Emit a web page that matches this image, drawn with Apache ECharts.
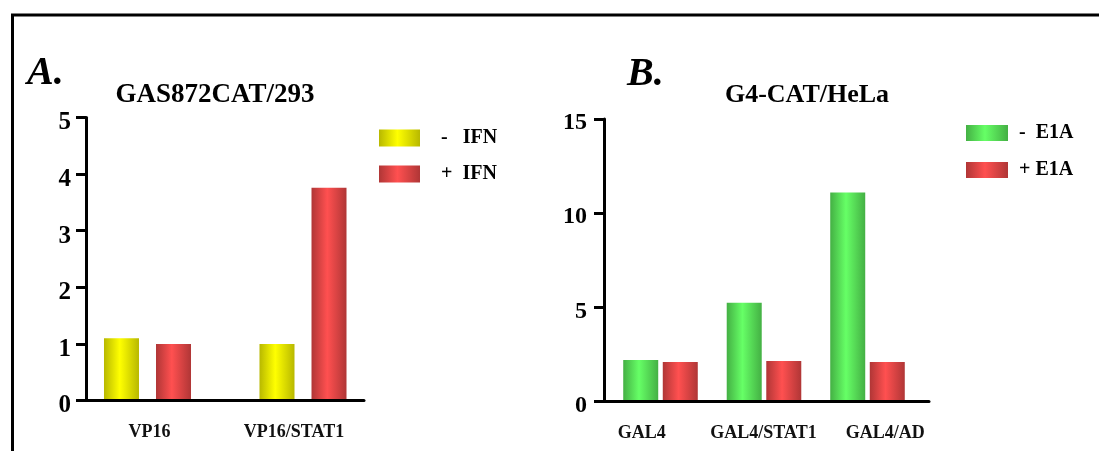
<!DOCTYPE html>
<html>
<head>
<meta charset="utf-8">
<script src="https://cdn.jsdelivr.net/npm/echarts@6/dist/echarts.min.js"></script>
<style>html,body{margin:0;padding:0;background:#fff;}#c{width:1099px;height:451px;}</style>
</head>
<body>
<div id="c"></div>
<script>
// ---- data ----
const categoriesA = ['VP16', 'VP16/STAT1'];
const ifnMinus = [1.1, 1.0];
const ifnPlus = [1.0, 3.76];
const ticksA = { min: 0, max: 5, interval: 1 };

const categoriesB = ['GAL4', 'GAL4/STAT1', 'GAL4/AD'];
const e1aMinus = [2.2, 5.25, 11.1];
const e1aPlus = [2.1, 2.15, 2.1];
const ticksB = { min: 0, max: 15, interval: 5 };

const namesA = ['-   IFN', '+  IFN'];
const namesB = ['-  E1A', '+ E1A'];

// ---- styling ----
const FONT = "'Liberation Serif', 'Times New Roman', serif";
const grad = (edge, mid) => new echarts.graphic.LinearGradient(0, 0, 1, 0, [
  { offset: 0, color: edge }, { offset: 0.45, color: mid }, { offset: 1, color: edge }
]);
const yellow = grad('#b8b800', '#ffff00');
const red = grad('#b03636', '#ff5050');
const green = grad('#44b044', '#66ff66');

// axis-line-only x axis
function lineX(gi, cats) {
  return {
    gridIndex: gi, type: 'category', data: cats, z: 10,
    axisLine: { show: true, lineStyle: { color: '#000', width: 3 } },
    axisTick: { show: false }, axisLabel: { show: false }
  };
}
// label-only x axis
function labelX(gi, cats) {
  return {
    gridIndex: gi, type: 'category', data: cats,
    axisLine: { show: false }, axisTick: { show: false },
    axisLabel: { interval: 0, color: '#111', fontFamily: FONT, fontWeight: 'bold', fontSize: 18, margin: 23 }
  };
}
function hidX(gi, cats) {
  return { gridIndex: gi, type: 'category', data: cats, show: false };
}
function visY(gi, t, fs, margin, shiftLH) {
  return {
    gridIndex: gi, type: 'value', min: t.min, max: t.max, interval: t.interval, z: 10,
    axisLine: { show: true, lineStyle: { color: '#000', width: 3 } },
    axisTick: { show: true, inside: false, length: 10, lineStyle: { color: '#000', width: 3 } },
    splitLine: { show: false },
    axisLabel: { color: '#000', fontFamily: FONT, fontWeight: 'bold', fontSize: fs, margin: margin,
      lineHeight: shiftLH, formatter: v => '\n' + v }
  };
}
function hidY(gi, t) {
  return { gridIndex: gi, type: 'value', min: t.min, max: t.max, show: false, splitLine: { show: false } };
}

const legendText = { fontFamily: FONT, fontWeight: 'bold', fontSize: 20, color: '#000' };

const option = {
  backgroundColor: '#fff',
  animation: false,
  title: [
    { text: 'A.', left: 27, top: 54, padding: 0, textStyle: { fontFamily: FONT, fontStyle: 'italic', fontWeight: 'bold', fontSize: 40, color: '#000' } },
    { text: 'B.', left: 627, top: 55, padding: 0, textStyle: { fontFamily: FONT, fontStyle: 'italic', fontWeight: 'bold', fontSize: 40, color: '#000' } },
    { text: 'GAS872CAT/293', left: 215, textAlign: 'center', top: 82, padding: 0, textStyle: { fontFamily: FONT, fontWeight: 'bold', fontSize: 27, color: '#000' } },
    { text: 'G4-CAT/HeLa', left: 807, textAlign: 'center', top: 82, padding: 0, textStyle: { fontFamily: FONT, fontWeight: 'bold', fontSize: 26, color: '#000' } }
  ],
  legend: [
    { data: namesA, orient: 'vertical', left: 379, top: 128, padding: 0, itemWidth: 41, itemHeight: 17, itemGap: 16, icon: 'rect',
      textStyle: Object.assign({ padding: [0, 0, 0, 16] }, legendText) },
    { data: namesB, orient: 'vertical', left: 966, top: 123, padding: 0, itemWidth: 42, itemHeight: 16, itemGap: 17, icon: 'rect',
      textStyle: Object.assign({ padding: [0, 0, 0, 6] }, legendText) }
  ],
  grid: [
    { left: 86, top: 117.5, width: 278, height: 283 },        // 0: A axes
    { left: 69.75, top: 117.5, width: 311, height: 283 },     // 1: A bars
    { left: 604, top: 119, width: 325, height: 282.5 },       // 2: B axes
    { left: 608.75, top: 119, width: 310.5, height: 282.5 },  // 3: B bars
    { left: 77.25, top: 117.5, width: 289, height: 283 },     // 4: A labels
    { left: 581, top: 119, width: 365, height: 282.5 }        // 5: B labels
  ],
  xAxis: [lineX(0, categoriesA), hidX(1, categoriesA), lineX(2, categoriesB), hidX(3, categoriesB),
          labelX(4, categoriesA), labelX(5, categoriesB)],
  yAxis: [visY(0, ticksA, 25, 15, 11), hidY(1, ticksA), visY(2, ticksB, 24, 17, 8), hidY(3, ticksB),
          hidY(4, ticksA), hidY(5, ticksB)],
  graphic: [
    { type: 'polyline', shape: { points: [[1099, 15], [12.5, 15], [12.5, 451]] }, style: { stroke: '#000', lineWidth: 3, fill: null }, silent: true }
  ],
  series: [
    { name: namesA[0], type: 'bar', xAxisIndex: 1, yAxisIndex: 1, data: ifnMinus, barWidth: 35, barGap: '48.6%', itemStyle: { color: yellow } },
    { name: namesA[1], type: 'bar', xAxisIndex: 1, yAxisIndex: 1, data: ifnPlus, barWidth: 35, barGap: '48.6%', itemStyle: { color: red } },
    { name: namesB[0], type: 'bar', xAxisIndex: 3, yAxisIndex: 3, data: e1aMinus, barWidth: 35, barGap: '13%', itemStyle: { color: green } },
    { name: namesB[1], type: 'bar', xAxisIndex: 3, yAxisIndex: 3, data: e1aPlus, barWidth: 35, barGap: '13%', itemStyle: { color: red } }
  ]
};

const chart = echarts.init(document.getElementById('c'), null, { renderer: 'canvas' });
chart.setOption(option);
</script>
</body>
</html>
